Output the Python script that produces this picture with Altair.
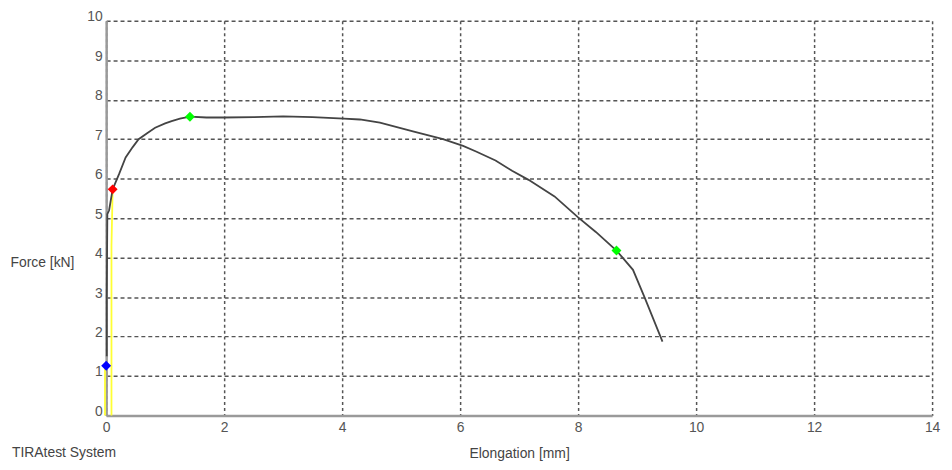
import altair as alt
import pandas as pd

# Force-elongation curve (Elongation [mm], Force [kN])
curve_x = [0.01, 0.01, 0.02, 0.05, 0.11, 0.22, 0.33, 0.45, 0.55, 0.7, 0.83, 1.0, 1.11, 1.25, 1.42, 1.7,
           2.0, 2.5, 3.0, 3.5, 4.03, 4.3, 4.64, 5.2, 5.71, 6.05, 6.27, 6.6, 6.88, 7.16, 7.6,
           8.0, 8.3, 8.65, 8.93, 9.13, 9.43]
curve_y = [1.5, 3.0, 5.1, 5.2, 5.73, 6.12, 6.54, 6.8, 7.0, 7.16, 7.29, 7.4, 7.46, 7.52, 7.57, 7.55,
           7.55, 7.56, 7.58, 7.56, 7.52, 7.5, 7.42, 7.2, 7.0, 6.83, 6.69, 6.46, 6.2, 5.97, 5.55,
           5.02, 4.65, 4.18, 3.69, 2.98, 1.87]

# yellow helper lines
yellow1_x = [-0.02, -0.02]
yellow1_y = [0.0, 1.26]
yellow2_x = [0.09, 0.09, 0.11]
yellow2_y = [0.0, 4.3, 5.73]

# markers
marker_x = [0.0, 0.11, 1.42, 8.65]
marker_y = [1.26, 5.73, 7.57, 4.18]
marker_color = ["#0000ff", "#ff0000", "#00ff00", "#00ff00"]

x_ticks = [0, 2, 4, 6, 8, 10, 12, 14]
y_ticks = [0, 1, 2, 3, 4, 5, 6, 7, 8, 9, 10]

FONT = "Liberation Sans"

curve_df = pd.DataFrame({"x": curve_x, "y": curve_y, "i": range(len(curve_x))})
y1_df = pd.DataFrame({"x": yellow1_x, "y": yellow1_y, "i": range(len(yellow1_x))})
y2_df = pd.DataFrame({"x": yellow2_x, "y": yellow2_y, "i": range(len(yellow2_x))})
mk_df = pd.DataFrame({"x": marker_x, "y": marker_y, "c": marker_color})

xscale = alt.Scale(domain=[0, 14], nice=False, zero=False)
yscale = alt.Scale(domain=[0, 10], nice=False, zero=False)

xaxis = alt.Axis(values=x_ticks, format="d", grid=True, gridDash=[3, 3], gridColor="#555555", gridWidth=1.5,
                 domainColor="#9a9a9a", domainWidth=2.5, ticks=False, labelFlush=False,
                 labelOverlap=False,
                 labelFont=FONT, labelFontSize=14, labelColor="#555555", labelPadding=5,
                 title="Elongation [mm]", titleFont=FONT, titleFontSize=14, titleFontWeight="normal",
                 titleColor="#444444", titleY=38, titleBaseline="middle")
yaxis = alt.Axis(values=y_ticks, format="d", grid=True, gridDash=[4, 3], gridColor="#555555", gridWidth=1.5,
                 domainColor="#9a9a9a", domainWidth=2.5, ticks=False, labelFlush=False,
                 labelOverlap=False,
                 labelFont=FONT, labelFontSize=14, labelColor="#555555", labelPadding=4,
                 labelBaseline="alphabetic",
                 title="Force [kN]", titleFont=FONT, titleFontSize=14, titleFontWeight="normal",
                 titleColor="#444444", titleAngle=0, titleAlign="left", titleBaseline="middle",
                 titleX=-97, titleY=244)

X = alt.X("x:Q", scale=xscale, axis=xaxis)
Y = alt.Y("y:Q", scale=yscale, axis=yaxis)

yellow1 = alt.Chart(y1_df).mark_line(color="#ffff33", strokeWidth=1.8).encode(
    x=X, y=Y, order="i:Q")
yellow2 = alt.Chart(y2_df).mark_line(color="#ffff33", strokeWidth=1.8).encode(
    x=X, y=Y, order="i:Q")
curve = alt.Chart(curve_df).mark_line(color="#444444", strokeWidth=1.8).encode(
    x=X, y=Y, order="i:Q")
markers = alt.Chart(mk_df).mark_point(shape="diamond", filled=True, size=100, opacity=1).encode(
    x=X, y=Y, color=alt.Color("c:N", scale=None))

footer = alt.Chart(pd.DataFrame({"t": ["TIRAtest System"]})).mark_text(
    align="left", baseline="middle", font=FONT, fontSize=14, color="#444444").encode(
    x=alt.value(-95), y=alt.value(436), text="t:N")

chart = alt.layer(yellow1, yellow2, curve, markers, footer).properties(
    width=833, height=398,
    padding={"left": 99, "top": 11, "right": 12, "bottom": 45},
    autosize=alt.AutoSizeParams(type="none"),
    background="white",
).configure_view(stroke=None)

chart.save("out.html", embed_options={"renderer": "svg", "actions": False})
